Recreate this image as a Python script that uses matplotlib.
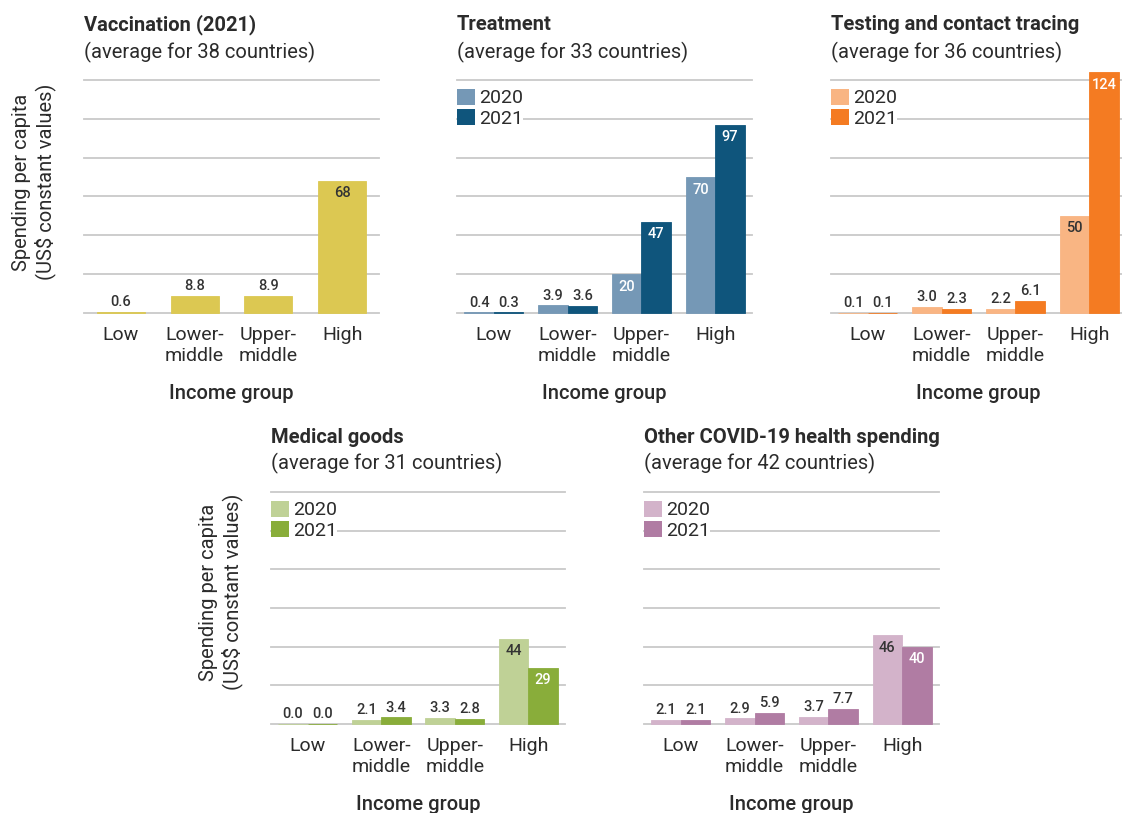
import numpy as np
from matplotlib import pyplot as plt
from matplotlib.patches import Patch

plt.rcParams['font.family'] = ['Roboto', 'DejaVu Sans']

# Data
categories = ["Low", "Lower-\nmiddle", "Upper-\nmiddle", "High"]
years = ["2020", "2021"]

vaccination_2021 = [0.6, 8.8, 8.9, 68]
treatment_2020 = [0.4, 3.9, 20, 70]
treatment_2021 = [0.3, 3.6, 47, 97]
testing_2020 = [0.1, 3.0, 2.2, 50]
testing_2021 = [0.1, 2.3, 6.1, 124]
medical_2020 = [0.0, 2.1, 3.3, 44]
medical_2021 = [0.0, 3.4, 2.8, 29]
other_2020 = [2.1, 2.9, 3.7, 46]
other_2021 = [2.1, 5.9, 7.7, 40]

titles = ["Vaccination (2021)", "Treatment", "Testing and contact tracing",
          "Medical goods", "Other COVID-19 health spending"]
subtitles = ["(average for 38 countries)", "(average for 33 countries)",
             "(average for 36 countries)", "(average for 31 countries)",
             "(average for 42 countries)"]

W, H = 1122, 813
TEXT = "#2b2b2b"
GRID = "#c9c9c9"
DARK = "#333333"
YLABEL = "Spending per capita\n(US$ constant values)"

fig = plt.figure(figsize=(W / 100, H / 100), dpi=100)


def px_axes(left, top, right, bottom):
    return fig.add_axes([left / W, 1 - bottom / H, (right - left) / W, (bottom - top) / H])


def draw_panel(ax, series, colors, txt_colors):
    x = np.arange(len(categories))
    n = len(series)
    width = 0.65 if n == 1 else 0.4
    ax.set_xlim(-0.5, 3.5)
    ax.set_ylim(0, 120)
    for v in range(0, 121, 20):
        ax.axhline(v, color=GRID, lw=1.3, zorder=0, clip_on=False)
    for i, (vals, col, tcol) in enumerate(zip(series, colors, txt_colors)):
        offs = (i - (n - 1) / 2) * width
        bars = ax.bar(x + offs, vals, width, color=col, edgecolor=col, lw=0.6,
                      zorder=2, clip_on=False)
        for b, v in zip(bars, vals):
            cx = b.get_x() + b.get_width() / 2
            if v >= 15:
                ax.annotate(f"{v:.0f}", (cx, v), xytext=(0, -9), textcoords="offset points",
                            ha="center", va="center", fontsize=10.5, fontweight="medium",
                            color=tcol, zorder=3, annotation_clip=False)
            else:
                ax.annotate(f"{v:.1f}", (cx, v), xytext=(0, 7), textcoords="offset points",
                            ha="center", va="center", fontsize=10.5, fontweight="medium",
                            color=DARK, zorder=3, annotation_clip=False)
    for s in ax.spines.values():
        s.set_visible(False)
    ax.set_yticks([])
    ax.set_xticks(x, categories, fontsize=14, color=TEXT, linespacing=1.25)
    ax.tick_params(axis="x", length=0, pad=9)
    ax.set_xlabel("Income group", fontsize=14.5, fontweight="medium", color=TEXT, labelpad=14)
    if n == 2:
        handles = [Patch(facecolor=c, edgecolor="none") for c in colors]
        leg = ax.legend(handles, years, loc="upper left", bbox_to_anchor=(0, 0.963),
                        frameon=True, fancybox=False, framealpha=1, edgecolor="none",
                        facecolor="white", fontsize=14, handlelength=0.9, handleheight=0.9,
                        handletextpad=0.25, labelspacing=0.1, borderpad=0.0,
                        borderaxespad=0.0)
        for t in leg.get_texts():
            t.set_color(TEXT)
        leg.set_zorder(5)
    return ax


def add_titles(ax, title, subtitle, y_title, y_sub):
    x0 = ax.get_position().x0
    fig.text(x0, 1 - y_title / H, title, fontsize=14.5, fontweight="bold", color=TEXT,
             ha="left", va="center")
    fig.text(x0, 1 - y_sub / H, subtitle, fontsize=14.5, color=TEXT, ha="left", va="center")


top_axes = [px_axes(84, 80, 379, 313), px_axes(457, 80, 752, 313), px_axes(831, 80, 1126, 313)]
bot_axes = [px_axes(271, 492, 565, 724), px_axes(644, 492, 939, 724)]

panels = [
    ([vaccination_2021], ["#dcc852"], [DARK]),
    ([treatment_2020, treatment_2021], ["#7598b6", "#0f557c"], ["white", "white"]),
    ([testing_2020, testing_2021], ["#f9b583", "#f47b22"], [DARK, "white"]),
    ([medical_2020, medical_2021], ["#bfd196", "#89ad3a"], [DARK, "white"]),
    ([other_2020, other_2021], ["#d3b3ca", "#b07ca3"], [DARK, "white"]),
]

for i, (ax, (series, colors, tcols)) in enumerate(zip(top_axes + bot_axes, panels)):
    draw_panel(ax, series, colors, tcols)
    if i < 3:
        add_titles(ax, titles[i], subtitles[i], 25, 52)
    else:
        add_titles(ax, titles[i], subtitles[i], 437, 463)

fig.text(34 / W, 1 - 182 / H, YLABEL, rotation=90, fontsize=14.5, color=TEXT,
         ha="center", va="center", linespacing=1.15)
fig.text(221 / W, 1 - 592 / H, YLABEL, rotation=90, fontsize=14.5, color=TEXT,
         ha="center", va="center", linespacing=1.15)

fig.savefig("out.png", dpi=100, facecolor="white")
